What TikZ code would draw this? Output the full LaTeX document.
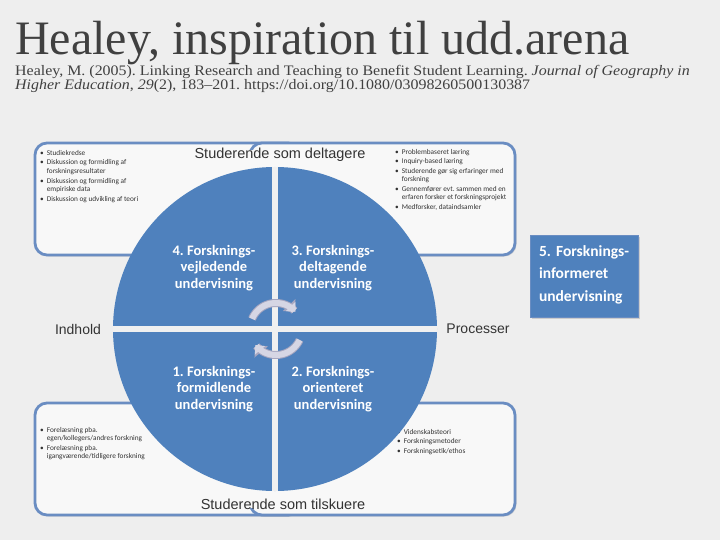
\documentclass[tikz,border=0pt]{standalone}
\usepackage{fontspec}
\setmainfont{Liberation Serif}
\newfontfamily\calfont{Carlito}
\newfontfamily\arialfont{Liberation Sans}
\usetikzlibrary{arrows.meta,shadows}
\definecolor{bg}{HTML}{EEEEEE}
\definecolor{blu}{HTML}{4F81BD}
\definecolor{boxline}{HTML}{6A8DC2}
\definecolor{boxfill}{HTML}{F8F8F8}
\definecolor{txt}{HTML}{404040}
\definecolor{lab}{HTML}{333333}
\definecolor{arrfill}{HTML}{D6D6E4}
\definecolor{arrline}{HTML}{A6A6C0}
\definecolor{gapcol}{HTML}{F0F0F0}
\newcommand{\bl}{\textbullet}
\frenchspacing
\begin{document}
\frenchspacing
\begin{tikzpicture}[x=1pt,y=-1pt,
  cornerbox/.style={draw=boxline, line width=2.8pt, fill=boxfill, rounded corners=12pt,
    drop shadow={shadow xshift=1.5pt,shadow yshift=-1.5pt,opacity=0.25}, inner sep=0pt,
    minimum width=265pt, minimum height=112pt},
  bullets/.style={font=\calfont\fontsize{7.3}{8.4}\selectfont, text=lab, inner sep=0pt, anchor=north west},
  qtext/.style={font=\calfont\bfseries\fontsize{14.5}{16.8}\selectfont, text=white, align=center, inner sep=0pt},
  labtext/.style={font=\arialfont\fontsize{14.5}{16}\selectfont, text=lab, inner xsep=0pt, inner ysep=3pt},
  gapline/.style={draw=gapcol, line width=6pt},
  cycout/.style={draw=arrline, line width=8pt, -{Triangle[length=9pt,width=17pt,fill=arrline]}},
  cycin/.style={draw=arrfill, line width=6pt, -{Triangle[length=7pt,width=13pt,fill=arrfill]}},
]
\useasboundingbox (0,0) rectangle (720,540);
\fill[bg] (0,0) rectangle (720,540);

% title and reference
\node[anchor=base west, font=\fontsize{48}{48}\selectfont, text=txt, inner sep=0pt] (title) at (15,55) {Healey, inspiration til udd.arena};
\node[anchor=base west, font=\fontsize{14.5}{14.5}\selectfont, text=txt, inner sep=0pt] (ref1) at (15,76) {\scalebox{1.1}[1]{Healey, M. (2005). Linking Research and Teaching to Benefit Student Learning. \textit{Journal of Geography in}}};
\node[anchor=base west, font=\fontsize{14.5}{14.5}\selectfont, text=txt, inner sep=0pt] (ref2) at (15,90) {\scalebox{1.1}[1]{\textit{Higher Education}, \textit{29}(2), 183–201. https://doi.org/10.1080/03098260500130387}};

% corner boxes
\node[cornerbox] (tl) at (167.5,199) {};
\node[cornerbox] (tr) at (382.5,199) {};
\node[cornerbox] (bl) at (167.5,459) {};
\node[cornerbox] (br) at (382.5,459) {};
% hide the inner overlapping edges near the labels
\fill[boxfill] (245,150) rectangle (255,175);
\fill[boxfill] (245,483) rectangle (255,508);

% bullet lists
\node[bullets] (tltext) at (40,149) {\begin{tabular}{@{}l@{\hspace{3pt}}l@{}}
\bl & Studiekredse\\[1.4pt]
\bl & Diskussion og formidling af\\
    & forskningsresultater\\[1.4pt]
\bl & Diskussion og formidling af\\
    & empiriske data\\[1.4pt]
\bl & Diskussion og udvikling af teori
\end{tabular}};
\node[bullets] (trtext) at (395,148) {\begin{tabular}{@{}l@{\hspace{3pt}}l@{}}
\bl & Problembaseret læring\\[1.2pt]
\bl & Inquiry-based læring\\[1.2pt]
\bl & Studerende gør sig erfaringer med\\
    & forskning\\[1.2pt]
\bl & Gennemfører evt. sammen med en\\
    & erfaren forsker et forskningsprojekt\\[1.2pt]
\bl & Medforsker, dataindsamler
\end{tabular}};
\node[bullets] (bltext) at (40,426) {\begin{tabular}{@{}l@{\hspace{3pt}}l@{}}
\bl & Forelæsning pba.\\
    & egen/kollegers/andres forskning\\[1.4pt]
\bl & Forelæsning pba.\\
    & igangværende/tidligere forskning
\end{tabular}};
\node[bullets] (brtext) at (397,428) {\begin{tabular}{@{}l@{\hspace{3pt}}l@{}}
\bl & Videnskabsteori\\[1.2pt]
\bl & Forskningsmetoder\\[1.2pt]
\bl & Forskningsetik/ethos
\end{tabular}};

% labels
\node[labtext] (sdel) at (280,155) {Studerende som deltagere};
\node[labtext] (stil) at (283,504) {Studerende som tilskuere};

% circle
\node[circle, fill=blu, minimum size=324pt, inner sep=0pt] (circ) at (275,329) {};
\draw[gapline] (circ.north) -- (circ.south);
\draw[gapline] (circ.west) -- (circ.east);

% cycle arrows
\coordinate (cc) at (276,329);
\draw[cycout] plot[domain=203:318, samples=40] ({276+26*cos(\x)},{329+26*sin(\x)});
\draw[cycin]  plot[domain=203:318, samples=40] ({276+26*cos(\x)},{329+26*sin(\x)});
\draw[cycout] plot[domain=25:142, samples=40] ({276+26*cos(\x)},{329+26*sin(\x)});
\draw[cycin]  plot[domain=25:142, samples=40] ({276+26*cos(\x)},{329+26*sin(\x)});

% quadrant texts
\node[qtext] (q4) at (214,268) {4. Forsknings-\\vejledende\\undervisning};
\node[qtext] (q3) at (333,268) {3. Forsknings-\\deltagende\\undervisning};
\node[qtext] (q1) at (214,389) {1. Forsknings-\\formidlende\\undervisning};
\node[qtext] (q2) at (333,389) {2. Forsknings-\\orienteret\\undervisning};

\node[labtext, font=\arialfont\fontsize{14}{16}\selectfont] (indh) at (78,329) {Indhold};
\node[labtext, font=\arialfont\fontsize{14}{16}\selectfont] (proc) at (478,329) {Processer};

% box 5
\node[fill=blu, draw=boxline, line width=0.8pt, minimum width=108pt, minimum height=82pt,
  text width=90pt, inner xsep=9pt, align=left, text=white,
  font=\calfont\bfseries\fontsize{15.5}{22.5}\selectfont,
  drop shadow={shadow xshift=2pt,shadow yshift=-2pt,opacity=0.3}] (b5) at (584,276)
  {\raisebox{5pt}{5. Forsknings-}\\\raisebox{5pt}{informeret}\\\raisebox{5pt}{undervisning}};
\end{tikzpicture}
\end{document}
